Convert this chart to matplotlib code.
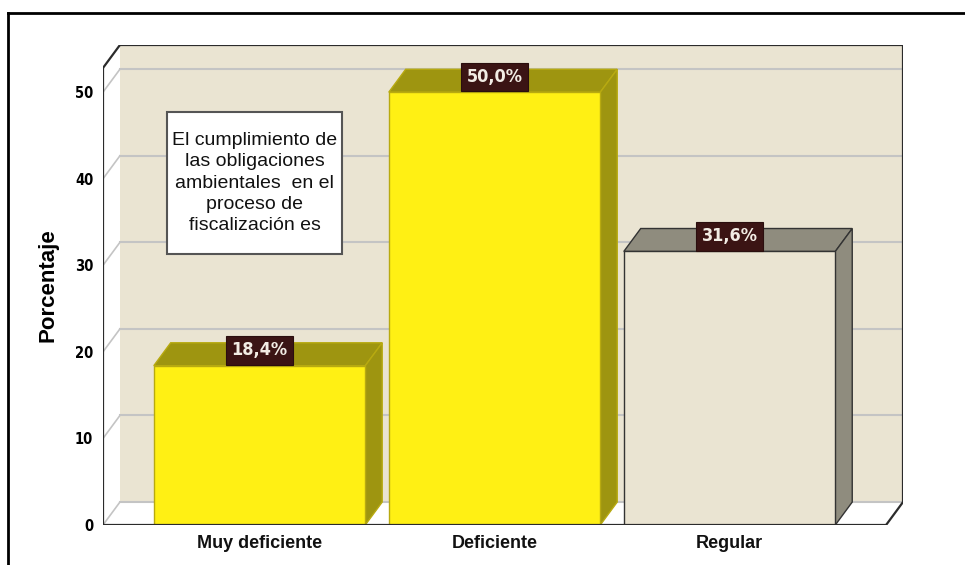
import matplotlib

matplotlib.use("Agg")
import matplotlib.pyplot as plt
from matplotlib.lines import Line2D
from matplotlib.patches import Polygon, Rectangle

categories = ["Muy deficiente", "Deficiente", "Regular"]
values = [18.4, 50.0, 31.6]
value_labels = ["18,4%", "50,0%", "31,6%"]
yticks = [0, 10, 20, 30, 40, 50]
note = "El cumplimiento de\nlas obligaciones\nambientales  en el\nproceso de\nfiscalización es"

WALL = "#EAE4D2"
FRONT = ["#FFF014", "#FFF014", "#EAE4D2"]
SIDE = ["#9E9510", "#9E9510", "#8F8C7E"]
EDGE = ["#B8AA10", "#B8AA10", "#333333"]
GRID = "#C4C4C4"
FRAME = "#2B2B2B"
NARROW = dict(family="DejaVu Sans", fontstretch="condensed", fontweight="bold")

# depth of the fake 3d box, in data units
DX, DY = 0.072, 2.65
X0, X1 = -0.666, 2.666
TOP = 52.8
W = 0.9

fig = plt.figure(figsize=(9.65, 5.65), dpi=100)
ax = fig.add_axes([103 / 965, 40 / 565, 800 / 965, 480 / 565])
ax.set_xlim(X0, X1 + DX)
ax.set_ylim(0, TOP + DY)
for s in ax.spines.values():
    s.set_visible(False)

# back wall, side wall, floor
ax.add_patch(Rectangle((X0 + DX, DY), X1 - X0, TOP, fc=WALL, ec="none", zorder=0))
ax.add_patch(Polygon([(X0, 0), (X0 + DX, DY), (X0 + DX, TOP + DY), (X0, TOP)],
                     fc="white", ec="none", zorder=0))
ax.add_patch(Polygon([(X0, 0), (X1, 0), (X1 + DX, DY), (X0 + DX, DY)],
                     fc="white", ec="none", zorder=0))

for v in yticks:
    ax.plot([X0 + DX, X1 + DX], [v + DY, v + DY], color=GRID, lw=1.5, zorder=1)
    ax.plot([X0, X0 + DX], [v, v + DY], color=GRID, lw=1.2, zorder=1)

# bars: front face via ax.bar, top and side as polygons
bars = ax.bar(range(len(values)), values, width=W, color=FRONT, edgecolor=EDGE,
              linewidth=1.0, zorder=3)
for i, v in enumerate(values):
    l, r = i - W / 2, i + W / 2
    ax.add_patch(Polygon([(l, v), (l + DX, v + DY), (r + DX, v + DY), (r, v)],
                         fc=SIDE[i], ec=EDGE[i], lw=1.0, zorder=2))
    ax.add_patch(Polygon([(r, 0), (r + DX, DY), (r + DX, v + DY), (r, v)],
                         fc=SIDE[i], ec=EDGE[i], lw=1.0, zorder=2))
    ax.annotate(value_labels[i], (i, v), xytext=(0, 4.5), textcoords="offset points",
                ha="center", va="bottom", fontsize=13, color="#F2ECE4",
                bbox=dict(boxstyle="square,pad=0.3", fc="#3B1414", ec="#2A0E0E", lw=0.8),
                zorder=5, **NARROW)

# outline of the box
kw = dict(color=FRAME, lw=1.6, zorder=4, solid_capstyle="butt")
ax.plot([X0, X0], [0, TOP], **kw)
ax.plot([X0, X0 + DX], [TOP, TOP + DY], **kw)
ax.plot([X0 + DX, X1 + DX], [TOP + DY, TOP + DY], **kw)
ax.plot([X1 + DX, X1 + DX], [DY, TOP + DY], **kw)
ax.plot([X1, X1 + DX], [0, DY], **kw)
ax.plot([X0, X1], [0, 0], **kw)

# note box
ax.add_patch(Rectangle((-0.394, 31.3), 0.745, 16.4, fc="white", ec="#555555", lw=1.5, zorder=4))
ax.text(-0.021, 39.5, note, ha="center", va="center", fontsize=14,
        family="Liberation Sans", color="#111111", linespacing=1.32, zorder=5)

ax.set_yticks(yticks)
ax.set_yticklabels([str(t) for t in yticks], fontsize=10.5, **NARROW)
ax.set_xticks(range(len(categories)))
ax.set_xticklabels(categories, fontsize=13, fontweight="bold", family="Liberation Sans",
                   color="#111111")
ax.tick_params(axis="y", length=0, pad=7)
ax.tick_params(axis="x", length=0, pad=7)
ax.set_ylabel("Porcentaje", fontsize=16, fontweight="bold", family="Liberation Sans",
              labelpad=12)

# outer frame (cropped on the right and bottom)
fig.add_artist(Line2D([8 / 965, 1], [1 - 13 / 565, 1 - 13 / 565], color="black", lw=2))
fig.add_artist(Line2D([8 / 965, 8 / 965], [0, 1 - 13 / 565], color="black", lw=2))

fig.savefig("out.png", dpi=100)
